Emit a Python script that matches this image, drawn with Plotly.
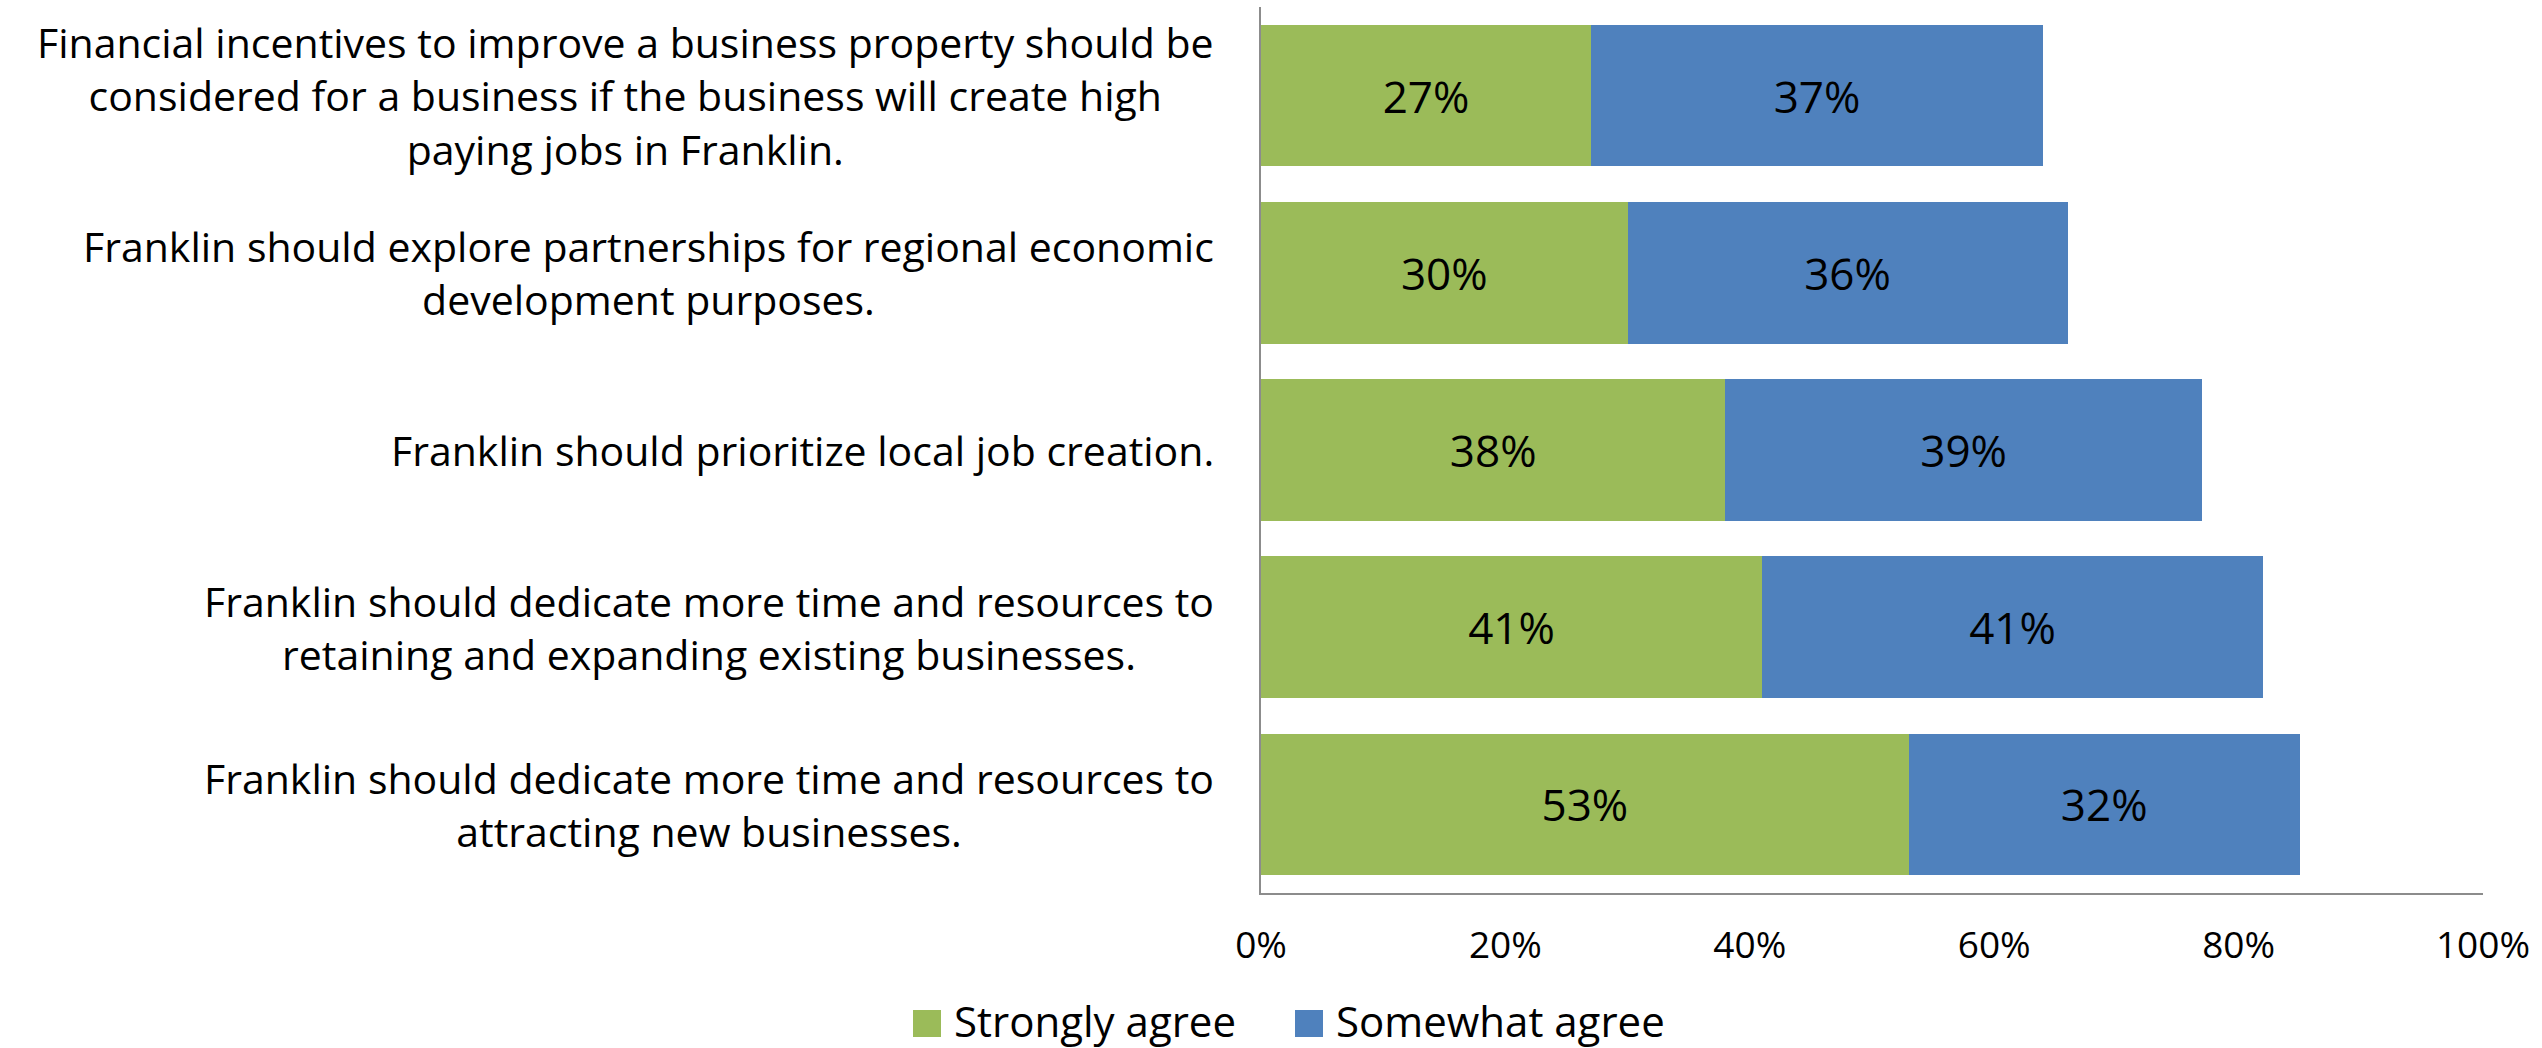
import plotly.graph_objects as go

# Survey statements (top to bottom) and agreement shares in percent
statements = [
    "Financial incentives to improve a business property should be\nconsidered for a business if the business will create high\npaying jobs in Franklin.",
    "Franklin should explore partnerships for regional economic\ndevelopment purposes.",
    "Franklin should prioritize local job creation.",
    "Franklin should dedicate more time and resources to\nretaining and expanding existing businesses.",
    "Franklin should dedicate more time and resources to\nattracting new businesses.",
]
strongly_agree = [27, 30, 38, 41, 53]
somewhat_agree = [37, 36, 39, 41, 32]
series_names = ["Strongly agree", "Somewhat agree"]
x_ticks = [0, 20, 40, 60, 80, 100]

GREEN = "#9BBB59"
BLUE = "#4F81BD"
AXIS = "#8C8C8C"
FONT = "Open Sans, Noto Sans, sans-serif"

# Page and plot-area geometry in pixels
W, H = 2542, 1048
L, R, T, B = 1261, 59, 7, 155
PW, PH = W - L - R, H - T - B


def px(x):
    return (x - L) / PW


def py(y):
    return (H - B - y) / PH


fig = go.Figure()
for name, vals, color in [(series_names[0], strongly_agree, GREEN),
                          (series_names[1], somewhat_agree, BLUE)]:
    fig.add_trace(go.Bar(
        y=list(range(len(statements))),
        x=vals,
        name=name,
        orientation="h",
        marker=dict(color=color, line=dict(width=0)),
        text=[f"{v}%" for v in vals],
        textposition="inside",
        insidetextanchor="middle",
        textangle=0,
        textfont=dict(family=FONT, size=44, color="black"),
        showlegend=False,
        hoverinfo="skip",
    ))

annotations = []
# Category labels: centred lines, block right-aligned against the axis
for i, s in enumerate(statements):
    annotations.append(dict(
        xref="paper", yref="y", x=0, y=i, xshift=-45,
        xanchor="right", yanchor="middle", align="center",
        text=s.replace("\n", "<br>"), showarrow=False,
        font=dict(family=FONT, size=41, color="black"),
    ))

# Legend: square swatches with labels, centred under the chart
shapes = []
legend_items = [(series_names[0], GREEN, 913), (series_names[1], BLUE, 1295)]
for name, color, x0 in legend_items:
    shapes.append(dict(
        type="rect", xref="paper", yref="paper",
        x0=px(x0), x1=px(x0 + 28), y0=py(1037), y1=py(1010),
        fillcolor=color, line=dict(width=0),
    ))
    annotations.append(dict(
        xref="paper", yref="paper", x=px(x0 + 39), y=py(1020),
        xanchor="left", yanchor="middle", text=name, showarrow=False,
        font=dict(family=FONT, size=42, color="black"),
    ))

fig.update_layout(
    width=W, height=H,
    margin=dict(l=L, r=R, t=T, b=B, pad=0),
    paper_bgcolor="white", plot_bgcolor="white",
    barmode="stack", bargap=0.2,
    showlegend=False,
    annotations=annotations,
    shapes=shapes,
    xaxis=dict(
        range=[0, 100], tickvals=x_ticks, ticktext=[f"{t}%" for t in x_ticks],
        showgrid=False, zeroline=False,
        showline=True, linecolor=AXIS, linewidth=2,
        ticks="", ticklabelstandoff=19,
        tickfont=dict(family=FONT, size=37, color="black"),
        fixedrange=True,
    ),
    yaxis=dict(
        range=[len(statements) - 0.5, -0.5],
        showticklabels=False, showgrid=False, zeroline=False,
        showline=True, linecolor=AXIS, linewidth=2, ticks="",
        fixedrange=True,
    ),
)

fig.write_html("out.html", config={"displayModeBar": False})
